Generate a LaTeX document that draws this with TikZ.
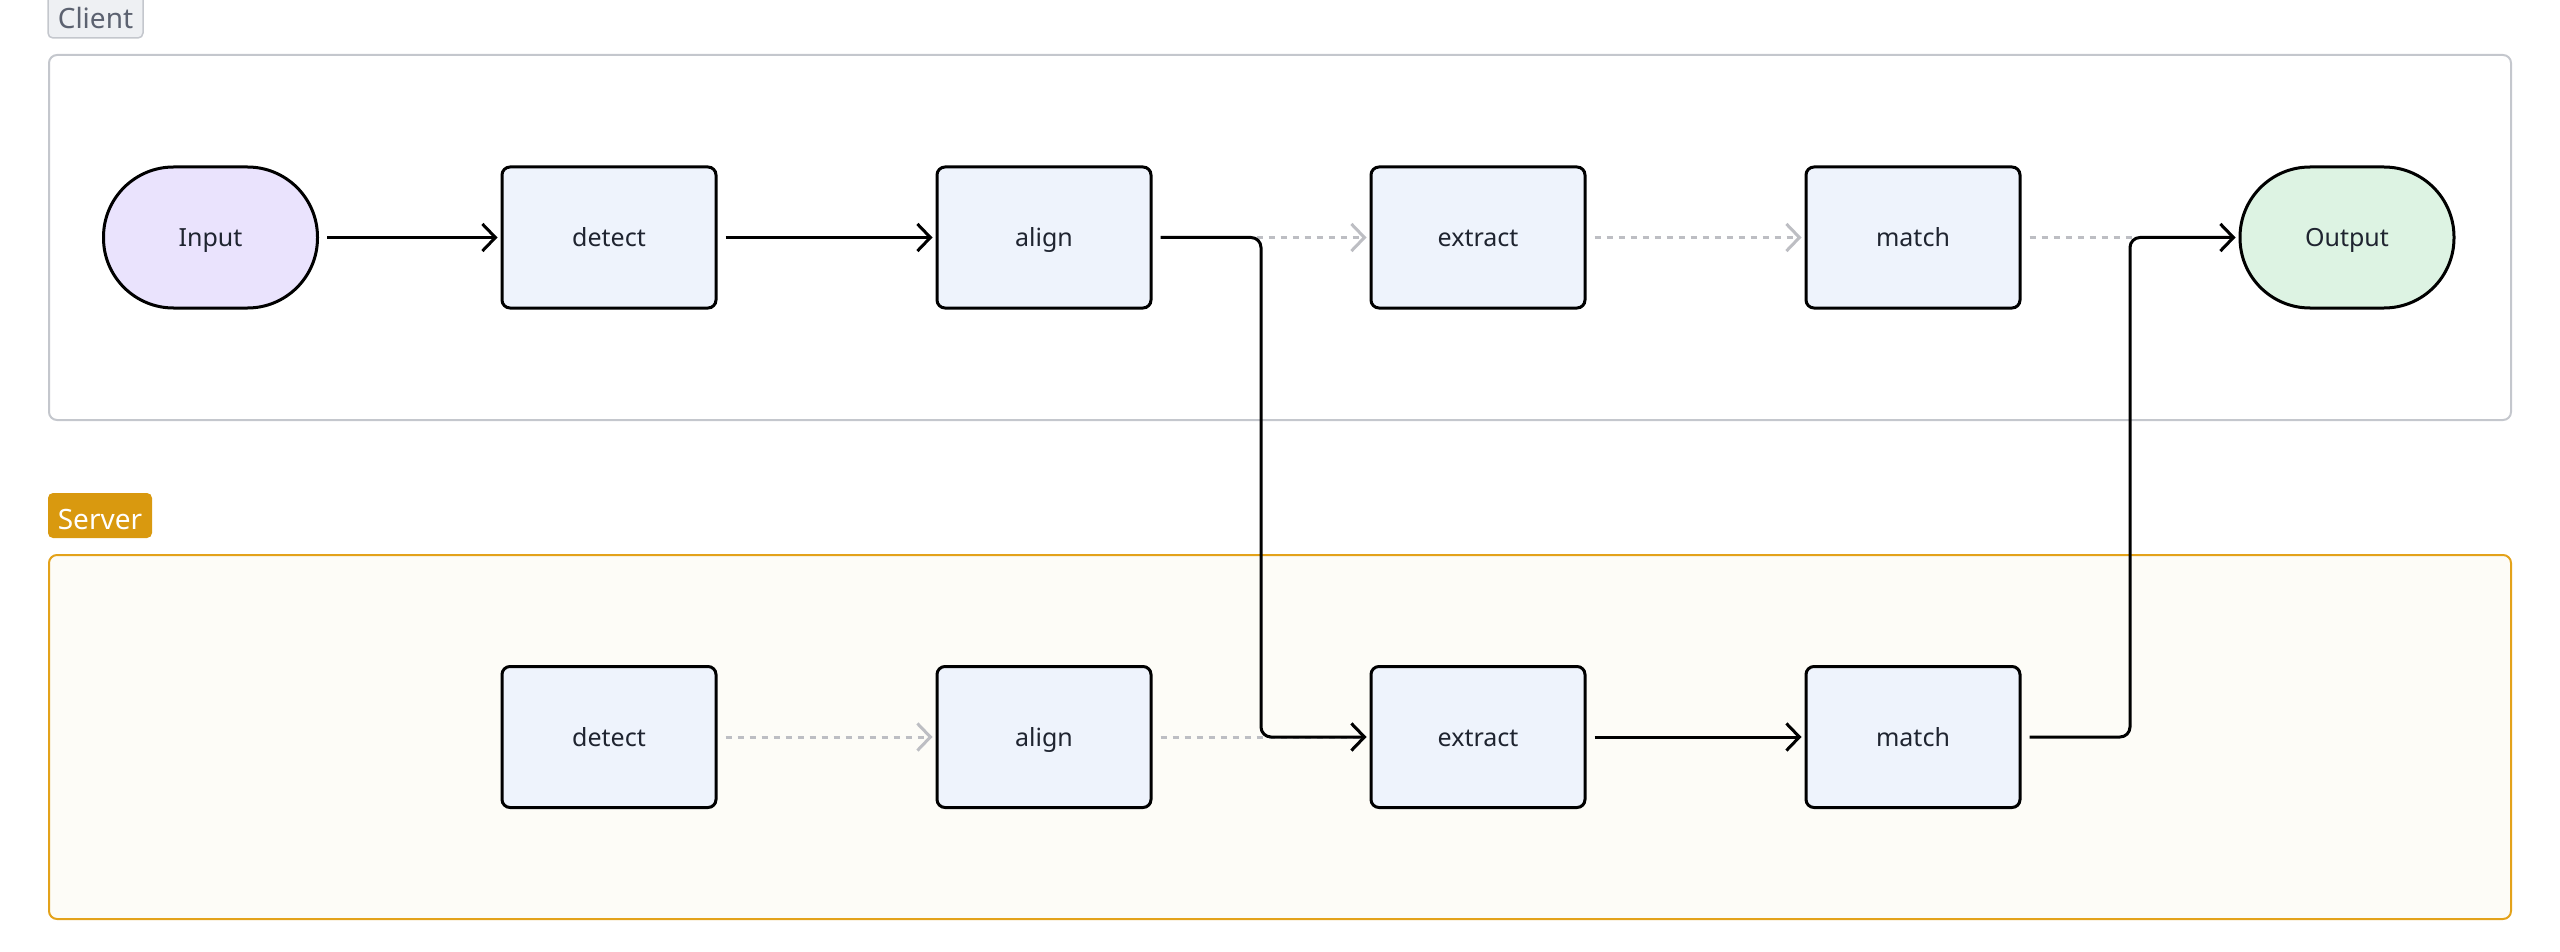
\documentclass[tikz,border=0pt]{standalone}
\usepackage{fontspec}
\setmainfont{Noto Sans}
\usetikzlibrary{arrows.meta}
\definecolor{nodefill}{HTML}{EEF3FC}
\definecolor{infill}{HTML}{EAE3FD}
\definecolor{outfill}{HTML}{DDF3E3}
\definecolor{txt}{HTML}{1F2430}
\definecolor{cborder}{HTML}{C4C7CD}
\definecolor{clabelfill}{HTML}{EEF0F3}
\definecolor{clabeltxt}{HTML}{5C6270}
\definecolor{sborder}{HTML}{E3A21A}
\definecolor{sfill}{HTML}{FDFCF7}
\definecolor{slabelfill}{HTML}{D9990F}
\definecolor{dashgray}{HTML}{BDBEC3}
\tikzset{
  proc/.style={draw=black, line width=3pt, fill=nodefill, rounded corners=8pt,
    minimum width=214pt, minimum height=141pt, inner sep=0pt, text=txt,
    text height=20pt, text depth=2pt,
    font=\fontsize{25pt}{30pt}\selectfont},
  term/.style={proc, rounded corners=70pt},
  flow/.style={draw=black, line width=3pt, rounded corners=10pt,
    -{Straight Barb[length=13pt,width=27pt]}, shorten <=8pt, shorten >=3pt},
  ghost/.style={draw=dashgray, line width=3pt, dash pattern=on 6pt off 6pt,
    -{Straight Barb[length=13pt,width=27pt]}, shorten <=8pt, shorten >=3pt},
  lanelabel/.style={rounded corners=5pt, inner sep=0pt,
    font=\fontsize{28pt}{32pt}\selectfont}
}
\begin{document}
\begin{tikzpicture}[x=1pt,y=-1pt]
\useasboundingbox (0,0) rectangle (2560,952);
% lanes
\draw[draw=cborder, line width=2pt, fill=white, rounded corners=8pt] (49,55) rectangle (2511,420);
\draw[draw=sborder, line width=2pt, fill=sfill, rounded corners=8pt] (49,555) rectangle (2511,919);
\node[lanelabel, draw=cborder, line width=1.5pt, fill=clabelfill, text=clabeltxt,
  text height=30pt, text depth=0pt,
  minimum width=95pt, minimum height=48pt] (clientlbl) at (95.5,14) {Client};
\node[lanelabel, fill=slabelfill, text=white,
  text height=27pt, text depth=0pt,
  minimum width=104pt, minimum height=45pt] (serverlbl) at (100,515.5) {Server};
% client row
\node[term, fill=infill] (input) at (210.5,237.5) {Input};
\node[proc] (cdetect) at (609,237.5) {detect};
\node[proc] (calign) at (1044,237.5) {align};
\node[proc] (cextract) at (1478,237.5) {extract};
\node[proc] (cmatch) at (1913,237.5) {match};
\node[term, fill=outfill] (output) at (2347,237.5) {Output};
% server row
\node[proc] (sdetect) at (609,737) {detect};
\node[proc] (salign) at (1044,737) {align};
\node[proc] (sextract) at (1478,737) {extract};
\node[proc] (smatch) at (1913,737) {match};
% elbow x positions
\coordinate (m1) at (1261,0);
\coordinate (m2) at (2130,0);
% ghost (skipped) paths
\draw[ghost] (calign.east) -- (cextract.west);
\draw[ghost] (cextract.east) -- (cmatch.west);
\draw[ghost] (cmatch.east) -- (output.west);
\draw[ghost] (sdetect.east) -- (salign.west);
\draw[ghost] (salign.east) -- (sextract.west);
% active flow
\draw[flow] (input.east) -- (cdetect.west);
\draw[flow] (cdetect.east) -- (calign.west);
\draw[flow] (calign.east) -- (m1 |- calign.east) -- (m1 |- sextract.west) -- (sextract.west);
\draw[flow] (sextract.east) -- (smatch.west);
\draw[flow] (smatch.east) -- (m2 |- smatch.east) -- (m2 |- output.west) -- (output.west);
\end{tikzpicture}
\end{document}
